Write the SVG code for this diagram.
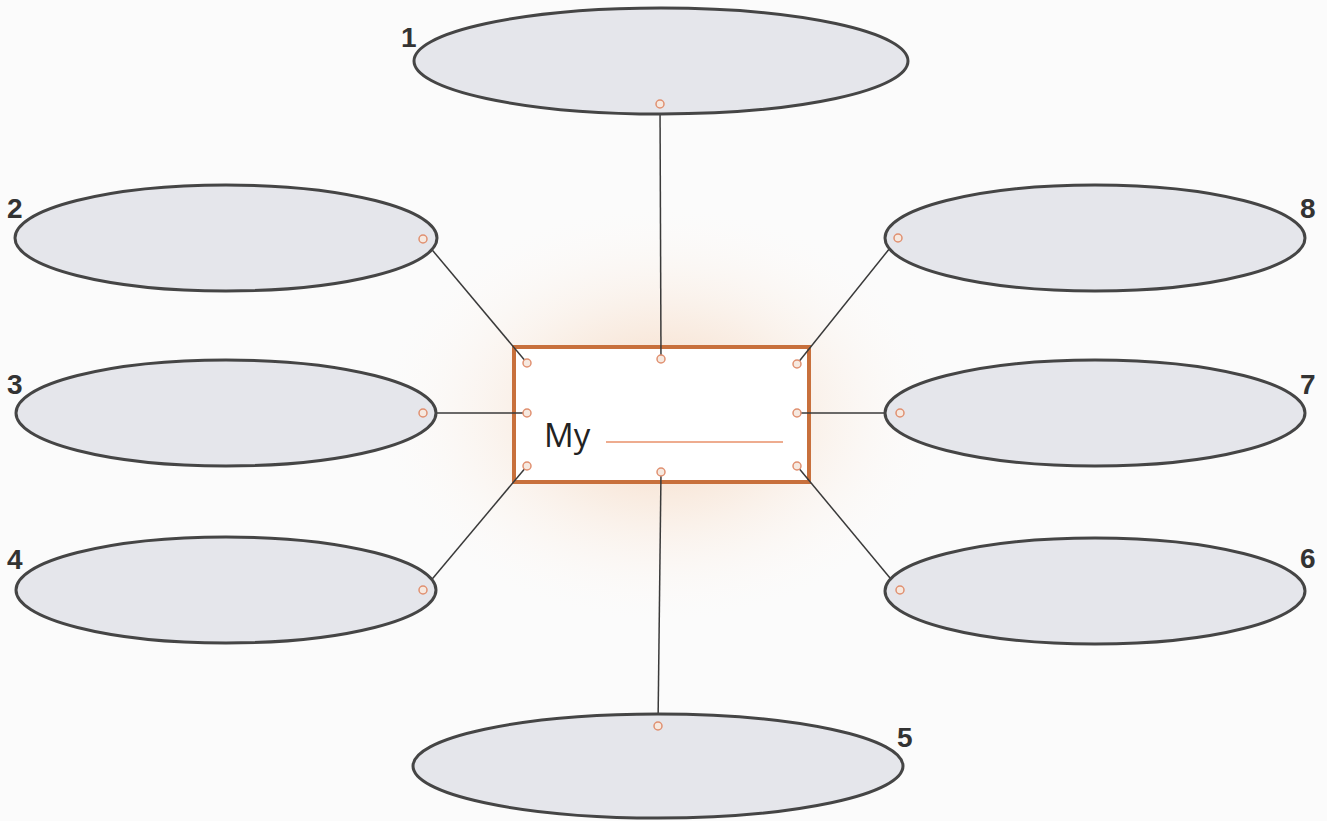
<svg xmlns="http://www.w3.org/2000/svg" width="1327" height="821" viewBox="0 0 1327 821">
<defs>
<radialGradient id="glow" cx="0.5" cy="0.5" r="0.5">
<stop offset="0" stop-color="#f3c9a8" stop-opacity="0.8"/>
<stop offset="0.45" stop-color="#f8e2d0" stop-opacity="0.5"/>
<stop offset="1" stop-color="#ffffff" stop-opacity="0"/>
</radialGradient>
</defs>
<style>
.oval{fill:#e5e6eb;stroke:#454545;stroke-width:3}
.con{stroke:#3a3a3a;stroke-width:1.5;fill:none}
.dot{fill:#f6e9e0;stroke:#e09070;stroke-width:1.5}
.num{font-family:"Liberation Sans",Arial,sans-serif;font-weight:bold;font-size:28px;fill:#333}
</style>
<rect width="1327" height="821" fill="#fbfbfb"/>
<ellipse cx="661" cy="414" rx="300" ry="220" fill="url(#glow)"/>
<g id="center">
<rect x="514" y="347" width="295" height="135" fill="#ffffff" stroke="#c8703c" stroke-width="4"/>
<text x="544" y="447" font-family="'Open Sans','Liberation Sans',sans-serif" font-size="33" fill="#222">My</text>
<line x1="606" y1="442" x2="783" y2="442" stroke="#e8906a" stroke-width="1.5"/>
</g>
<g id="connectors">
<line class="con" x1="660" y1="104" x2="661" y2="359"/>
<line class="con" x1="423" y1="239" x2="527" y2="363"/>
<line class="con" x1="423" y1="413" x2="527" y2="413"/>
<line class="con" x1="423" y1="590" x2="527" y2="466"/>
<line class="con" x1="898" y1="238" x2="797" y2="364"/>
<line class="con" x1="900" y1="413" x2="797" y2="413"/>
<line class="con" x1="900" y1="590" x2="797" y2="466"/>
<line class="con" x1="661" y1="472" x2="658" y2="726"/>
</g>
<g id="center-dots">
<circle class="dot" cx="527" cy="363" r="4"/>
<circle class="dot" cx="661" cy="359" r="4"/>
<circle class="dot" cx="797" cy="364" r="4"/>
<circle class="dot" cx="527" cy="413" r="4"/>
<circle class="dot" cx="797" cy="413" r="4"/>
<circle class="dot" cx="527" cy="466" r="4"/>
<circle class="dot" cx="661" cy="472" r="4"/>
<circle class="dot" cx="797" cy="466" r="4"/>
</g>
<g id="node1"><ellipse class="oval" cx="661" cy="61" rx="247" ry="53"/><circle class="dot" cx="660" cy="104" r="4"/><text class="num" x="401" y="47">1</text></g>
<g id="node2"><ellipse class="oval" cx="226" cy="238" rx="211" ry="53"/><circle class="dot" cx="423" cy="239" r="4"/><text class="num" x="7" y="218">2</text></g>
<g id="node3"><ellipse class="oval" cx="226" cy="413" rx="210" ry="53"/><circle class="dot" cx="423" cy="413" r="4"/><text class="num" x="7" y="394">3</text></g>
<g id="node4"><ellipse class="oval" cx="226" cy="590" rx="210" ry="53"/><circle class="dot" cx="423" cy="590" r="4"/><text class="num" x="7" y="569">4</text></g>
<g id="node5"><ellipse class="oval" cx="658" cy="766" rx="245" ry="52"/><circle class="dot" cx="658" cy="726" r="4"/><text class="num" x="897" y="747">5</text></g>
<g id="node6"><ellipse class="oval" cx="1095" cy="591" rx="210" ry="53"/><circle class="dot" cx="900" cy="590" r="4"/><text class="num" x="1300" y="568">6</text></g>
<g id="node7"><ellipse class="oval" cx="1095" cy="413" rx="210" ry="53"/><circle class="dot" cx="900" cy="413" r="4"/><text class="num" x="1300" y="394">7</text></g>
<g id="node8"><ellipse class="oval" cx="1095" cy="238" rx="210" ry="53"/><circle class="dot" cx="898" cy="238" r="4"/><text class="num" x="1300" y="218">8</text></g>
</svg>
